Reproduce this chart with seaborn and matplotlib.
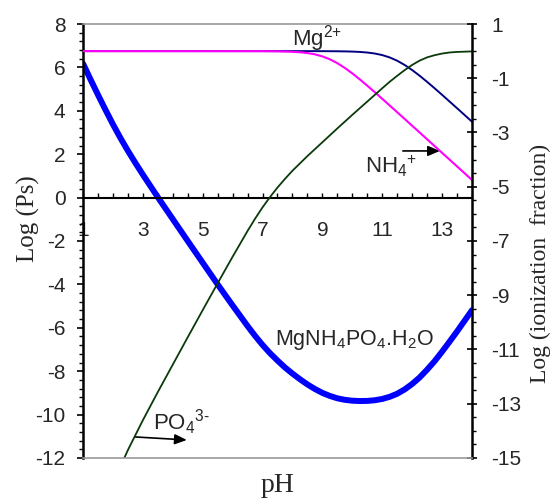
import matplotlib
matplotlib.use('Agg')
import matplotlib.pyplot as plt
from matplotlib.ticker import MultipleLocator
import seaborn as sns

# conditional solubility product, log(Ps)
ph_ps = [1.0, 1.25, 1.5, 1.75, 2.0, 2.25, 2.5, 2.75, 3.0, 3.5, 4.0, 4.5, 5.0, 5.5,
         6.0, 6.5, 6.75, 7.0, 7.25, 7.5, 7.75, 8.0, 8.25, 8.5, 8.75, 9.0, 9.25,
         9.5, 9.75, 10.0, 10.25, 10.5, 10.75, 11.0, 11.25, 11.5, 11.75, 12.0,
         12.25, 12.5, 12.75, 13.0, 13.25, 13.5, 13.75, 14.0]
log_ps = [6.18, 5.45, 4.74, 4.05, 3.38, 2.75, 2.16, 1.60, 1.06, 0.02, -0.99, -2.00,
          -3.00, -4.00, -4.97, -5.92, -6.37, -6.79, -7.17, -7.51, -7.83, -8.11,
          -8.37, -8.61, -8.82, -9.00, -9.14, -9.25, -9.32, -9.36, -9.375, -9.37,
          -9.34, -9.28, -9.18, -9.04, -8.84, -8.59, -8.29, -7.93, -7.54, -7.10,
          -6.64, -6.17, -5.68, -5.19]

# PO4 3- ionization fraction (right axis)
ph_po4 = [1.0, 1.5, 2.0, 2.5, 3.0, 3.5, 4.0, 4.5, 5.0, 5.5, 6.0, 6.5, 6.75, 7.0,
          7.25, 7.5, 7.75, 8.0, 8.5, 9.0, 9.5, 10.0, 10.5, 11.0, 11.25, 11.5,
          11.75, 12.0, 12.25, 12.5, 12.75, 13.0, 13.25, 13.5, 14.0]
log_po4 = [-18.73, -17.29, -15.93, -14.71, -13.61, -12.57, -11.56, -10.55, -9.55,
           -8.56, -7.58, -6.63, -6.18, -5.76, -5.38, -5.03, -4.71, -4.41, -3.87,
           -3.36, -2.85, -2.35, -1.86, -1.37, -1.13, -0.91, -0.70, -0.51, -0.35,
           -0.23, -0.15, -0.09, -0.05, -0.03, -0.01]

# Mg2+ and NH4+ ionization fractions (right axis)
ph_ion = [1.0, 7.0, 7.5, 8.0, 8.25, 8.5, 8.75, 9.0, 9.25, 9.5, 9.75, 10.0, 10.25,
          10.5, 10.75, 11.0, 11.25, 11.5, 11.75, 12.0, 12.25, 12.5, 12.75, 13.0,
          13.5, 14.0]
log_nh4 = [0.0, -0.002, -0.008, -0.024, -0.041, -0.071, -0.119, -0.194, -0.301,
           -0.444, -0.619, -0.821, -1.041, -1.274, -1.513, -1.758, -2.004, -2.252,
           -2.501, -2.751, -3.000, -3.250, -3.500, -3.750, -4.250, -4.750]
log_mg = [0.0, 0.0, 0.0, -0.0002, -0.0003, -0.0005, -0.001, -0.0017, -0.0031,
          -0.0054, -0.0096, -0.017, -0.0297, -0.0515, -0.0877, -0.1455, -0.2325,
          -0.354, -0.510, -0.697, -0.907, -1.133, -1.369, -1.611, -2.104, -2.601]

x_labels = [1, 3, 5, 7, 9, 11, 13]

sns.set_style('ticks')
plt.rcParams['font.family'] = ['Liberation Sans', 'DejaVu Sans']
plt.rcParams['axes.unicode_minus'] = False
plt.rcParams['mathtext.fontset'] = 'custom'
plt.rcParams['mathtext.rm'] = 'Liberation Sans'
plt.rcParams['mathtext.it'] = 'Liberation Sans:italic'
plt.rcParams['mathtext.bf'] = 'Liberation Sans:bold'

fig = plt.figure(figsize=(5.51, 4.99), dpi=100)
ax = fig.add_axes([0.1506, 0.0822, 0.706, 0.8697])
ax2 = ax.twinx()

# fraction curves on the right axis
sns.lineplot(x=ph_ion, y=log_mg, ax=ax2, color='#000080', linewidth=1.4)
sns.lineplot(x=ph_ion, y=log_nh4, ax=ax2, color='#FF00FF', linewidth=1.5)
sns.lineplot(x=ph_po4, y=log_po4, ax=ax2, color='#0A3A0A', linewidth=1.3)

# solubility product on the left axis
sns.lineplot(x=ph_ps, y=log_ps, ax=ax, color='#0000FF', linewidth=4.3)

ax.set_xlim(1, 14)
ax.set_ylim(-12, 8)
ax2.set_ylim(-15, 1)

# spines
ax.spines['bottom'].set_position(('data', 0))
ax.spines['bottom'].set_linewidth(1.5)
ax.spines['bottom'].set_color('black')
ax.spines['left'].set_linewidth(1.8)
ax.spines['left'].set_color('black')
ax.spines['top'].set_visible(True)
ax.spines['top'].set_color('#9a9a9a')
ax.spines['top'].set_linewidth(1.2)
ax.spines['right'].set_visible(False)
ax2.spines['left'].set_visible(False)
ax2.spines['top'].set_visible(False)
ax2.spines['bottom'].set_visible(True)
ax2.spines['bottom'].set_color('#9a9a9a')
ax2.spines['bottom'].set_linewidth(1.2)
ax2.spines['right'].set_visible(True)
ax2.spines['right'].set_color('black')
ax2.spines['right'].set_linewidth(1.8)

# x ticks sit on the y=0 line, pointing up
ax.set_xticks(x_labels)
ax.set_xticklabels([str(v) for v in x_labels])
ax.xaxis.set_minor_locator(MultipleLocator(0.5))
ax.tick_params(axis='x', which='both', direction='in', length=3.8, width=1.0,
               pad=17, labelsize=15, color='black', top=False)

# left y ticks
ax.set_yticks(range(-12, 9, 2))
ax.yaxis.set_minor_locator(MultipleLocator(0.4))
ax.tick_params(axis='y', which='major', direction='out', length=4.5, width=1.2,
               pad=8, labelsize=15, color='black')
ax.tick_params(axis='y', which='minor', direction='out', length=2.6, width=1.0,
               color='black')

# right y ticks
ax2.set_yticks(range(-15, 2, 2))
ax2.yaxis.set_minor_locator(MultipleLocator(0.5))
ax2.tick_params(axis='y', which='major', direction='inout', length=7.5, width=1.2,
                pad=10, labelsize=15, color='black')
ax2.tick_params(axis='y', which='minor', direction='out', length=2.6, width=1.0,
                color='black')
ax2.tick_params(axis='x', which='both', bottom=False, top=False)

# axis titles
ax.set_ylabel('Log (Ps)', family='Liberation Serif', fontsize=18)
ax.yaxis.set_label_coords(-0.111, 0.551)
ax2.set_ylabel('Log (ionization  fraction)', family='Liberation Serif', fontsize=17)
ax2.yaxis.set_label_coords(1.149, 0.449)
ax.set_xlabel('pH', family='Liberation Serif', fontsize=20)
ax.xaxis.set_label_coords(0.5, -0.035)

# species labels
ax.text(7.99, 7.03, r'Mg$^{\text{2+}}$', fontsize=16, va='baseline')
ax.text(10.42, 1.13, r'NH$_4{}^{\text{+}}$', fontsize=16, va='baseline')
ax.text(3.34, -10.71, r'PO$_4{}^{\text{3-}}$', fontsize=16, va='baseline')
ax.text(7.42, -6.79, r'MgNH$_4$PO$_4$.H$_2$O', fontsize=15.5, va='baseline')

arrow = dict(arrowstyle='-|>,head_length=0.4,head_width=0.17', color='black',
             lw=1.2, mutation_scale=18, shrinkA=0, shrinkB=0)
ax.annotate('', xy=(12.93, 2.15), xytext=(11.69, 2.15), arrowprops=arrow)
ax.annotate('', xy=(4.47, -11.17), xytext=(2.74, -11.03), arrowprops=arrow)

fig.savefig('out.png', dpi=100)
